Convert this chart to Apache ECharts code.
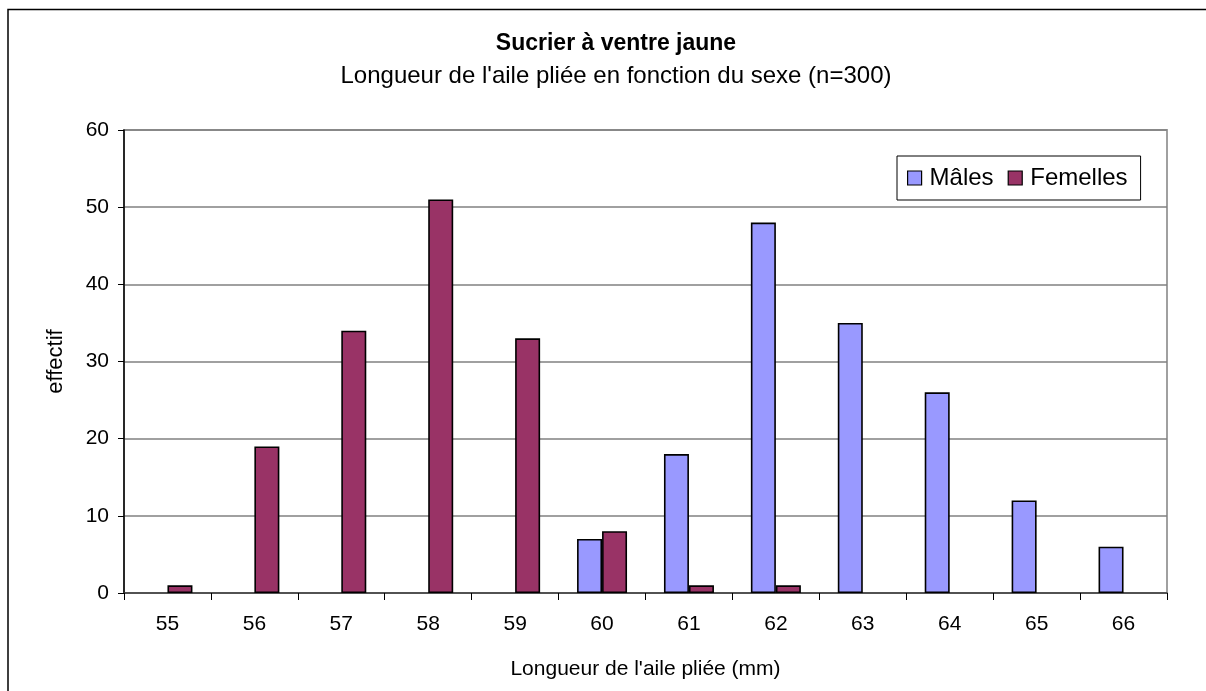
<!DOCTYPE html>
<html>
<head>
<meta charset="utf-8">
<script src="https://cdn.jsdelivr.net/npm/echarts@6/dist/echarts.min.js"></script>
<style>html,body{margin:0;padding:0;background:#fff}#c{width:1206px;height:691px}</style>
</head>
<body>
<div id="c"></div>
<script>
var categories = ['55','56','57','58','59','60','61','62','63','64','65','66'];
var males = [null, null, null, null, null, 7, 18, 48, 35, 26, 12, 6];
var femelles = [1, 19, 34, 51, 33, 8, 1, 1, null, null, null, null];
var yTicks = {min: 0, max: 60, interval: 10};
var titleText = 'Sucrier à ventre jaune';
var subtitleText = "Longueur de l'aile pliée en fonction du sexe (n=300)";
var xName = "Longueur de l'aile pliée (mm)";
var yName = 'effectif';

var FONT = '"Liberation Sans", Arial, sans-serif';
var chart = echarts.init(document.getElementById('c'), null, {renderer: 'canvas'});
chart.setOption({
  backgroundColor: '#fff',
  animation: false,
  title: [
    {text: titleText, left: 616, textAlign: 'center', top: 32, padding: 0,
     textStyle: {fontFamily: FONT, fontSize: 23, fontWeight: 'bold', color: '#000'}},
    {text: subtitleText, left: 616, textAlign: 'center', top: 64, padding: 0,
     textStyle: {fontFamily: FONT, fontSize: 24, fontWeight: 'normal', color: '#000'}}
  ],
  graphic: [{
    type: 'rect', silent: true, z: -1,
    shape: {x: 8, y: 9.5, width: 1400, height: 900},
    style: {fill: 'none', stroke: '#000', lineWidth: 1.5}
  }],
  legend: {
    data: ['Mâles', 'Femelles'],
    left: 897, top: 156,
    padding: [10, 13, 10, 10],
    itemWidth: 14, itemHeight: 14, itemGap: 14,
    icon: 'rect',
    borderColor: '#000', borderWidth: 1,
    backgroundColor: '#fff',
    textStyle: {fontFamily: FONT, fontSize: 24, color: '#000', padding: [0,0,0,3]},
    itemStyle: {borderColor: '#000', borderWidth: 1.2}
  },
  grid: {left: 124, right: 39, top: 130, bottom: 98, show: true,
         borderColor: '#a0a0a0', borderWidth: 2, backgroundColor: '#fff'},
  xAxis: {
    type: 'category', data: categories, boundaryGap: true,
    name: xName, nameLocation: 'middle', nameGap: 66,
    nameTextStyle: {fontFamily: FONT, fontSize: 21, color: '#000'},
    axisLine: {show: true, lineStyle: {color: '#404040', width: 1.5}},
    axisTick: {show: true, alignWithLabel: false, length: 7, lineStyle: {color: '#000'}},
    axisLabel: {fontFamily: FONT, fontSize: 21, color: '#000', margin: 21},
    splitLine: {show: false}
  },
  yAxis: {
    type: 'value', min: yTicks.min, max: yTicks.max, interval: yTicks.interval,
    name: yName, nameLocation: 'middle', nameGap: 57,
    nameTextStyle: {fontFamily: FONT, fontSize: 22, color: '#000'},
    axisLine: {show: true, lineStyle: {color: '#000', width: 1.5}},
    axisTick: {show: true, length: 6, lineStyle: {color: '#000'}},
    axisLabel: {fontFamily: FONT, fontSize: 21, color: '#000', margin: 15},
    splitLine: {show: true, lineStyle: {color: '#808080', width: 1.5}}
  },
  series: [
    {name: 'Mâles', type: 'bar', data: males, barWidth: 25, barGap: '0%',
     itemStyle: {color: '#9999FF', borderColor: '#000', borderWidth: 1.6}},
    {name: 'Femelles', type: 'bar', data: femelles, barWidth: 25, barGap: '0%',
     itemStyle: {color: '#993366', borderColor: '#000', borderWidth: 1.6}}
  ]
});
</script>
</body>
</html>
